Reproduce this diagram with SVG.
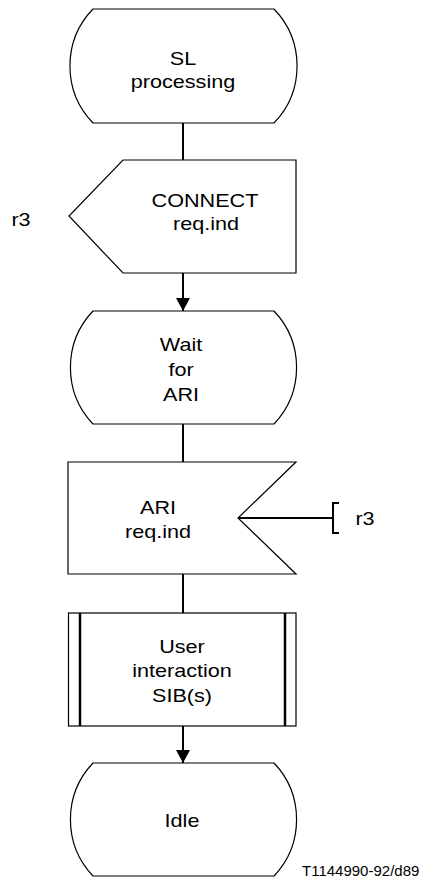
<svg xmlns="http://www.w3.org/2000/svg" width="430" height="884" viewBox="0 0 430 884">
<defs>
<style>
.shape{fill:#fff;stroke:#000;stroke-width:1.2}
.conn{fill:none;stroke:#000;stroke-width:2}
.t{font-family:"Liberation Sans",Arial,sans-serif;font-size:18px;fill:#000;text-anchor:middle}
.f{font-family:"Liberation Sans",Arial,sans-serif;font-size:15px;fill:#000}
</style>
<marker id="arr" viewBox="0 0 13 14" refX="13" refY="7" markerWidth="13" markerHeight="14" markerUnits="userSpaceOnUse" orient="auto">
<path d="M0,0 L13,7 L0,14 Z" fill="#000"/>
</marker>
</defs>
<g id="connectors">
<line class="conn" x1="183" y1="123" x2="183" y2="160"/>
<line class="conn" x1="183" y1="273" x2="183" y2="311" marker-end="url(#arr)"/>
<line class="conn" x1="183" y1="424" x2="183" y2="462"/>
<line class="conn" x1="183" y1="574" x2="183" y2="613"/>
<line class="conn" x1="183" y1="726" x2="183" y2="763" marker-end="url(#arr)"/>
<line class="conn" x1="238" y1="518" x2="333" y2="518"/>
<path class="conn" d="M339,503 H333 V533 H339"/>
</g>
<g id="state-sl">
<path class="shape" d="M93,9 H274 A82,82 0 0 1 274,123 H93 A82,82 0 0 1 93,9 Z"/>
<text class="t" transform="translate(183,65) scale(1.2,1)">SL</text>
<text class="t" transform="translate(183,88) scale(1.2,1)">processing</text>
</g>
<g id="output-connect">
<polygon class="shape" points="123,160 296,160 296,273 123,273 69,216"/>
<text class="t" transform="translate(205,207) scale(1.2,1)">CONNECT</text>
<text class="t" transform="translate(206,230) scale(1.2,1)">req.ind</text>
</g>
<g id="label-r3-left">
<text class="t" transform="translate(21,226) scale(1.2,1)">r3</text>
</g>
<g id="state-wait">
<path class="shape" d="M93,311 H274 A82,82 0 0 1 274,424 H93 A82,82 0 0 1 93,311 Z"/>
<text class="t" transform="translate(181,351) scale(1.2,1)">Wait</text>
<text class="t" transform="translate(181,376) scale(1.2,1)">for</text>
<text class="t" transform="translate(181,401) scale(1.2,1)">ARI</text>
</g>
<g id="input-ari">
<polygon class="shape" points="68,462 296,462 238,518 296,574 68,574"/>
<text class="t" transform="translate(158,514) scale(1.2,1)">ARI</text>
<text class="t" transform="translate(158,538) scale(1.2,1)">req.ind</text>
</g>
<g id="label-r3-right">
<text class="t" transform="translate(365,525) scale(1.2,1)">r3</text>
</g>
<g id="procedure-sib">
<rect class="shape" x="68.5" y="613" width="227.5" height="113"/>
<line x1="80" y1="613" x2="80" y2="726" stroke="#000" stroke-width="2.5"/>
<line x1="285" y1="613" x2="285" y2="726" stroke="#000" stroke-width="2.5"/>
<text class="t" transform="translate(182,653) scale(1.2,1)">User</text>
<text class="t" transform="translate(182,677) scale(1.2,1)">interaction</text>
<text class="t" transform="translate(182,702) scale(1.2,1)">SIB(s)</text>
</g>
<g id="state-idle">
<path class="shape" d="M93,763 H274 A82,82 0 0 1 274,876 H93 A82,82 0 0 1 93,763 Z"/>
<text class="t" transform="translate(182,827) scale(1.2,1)">Idle</text>
</g>
<text class="f" x="302" y="876">T1144990-92/d89</text>
</svg>
